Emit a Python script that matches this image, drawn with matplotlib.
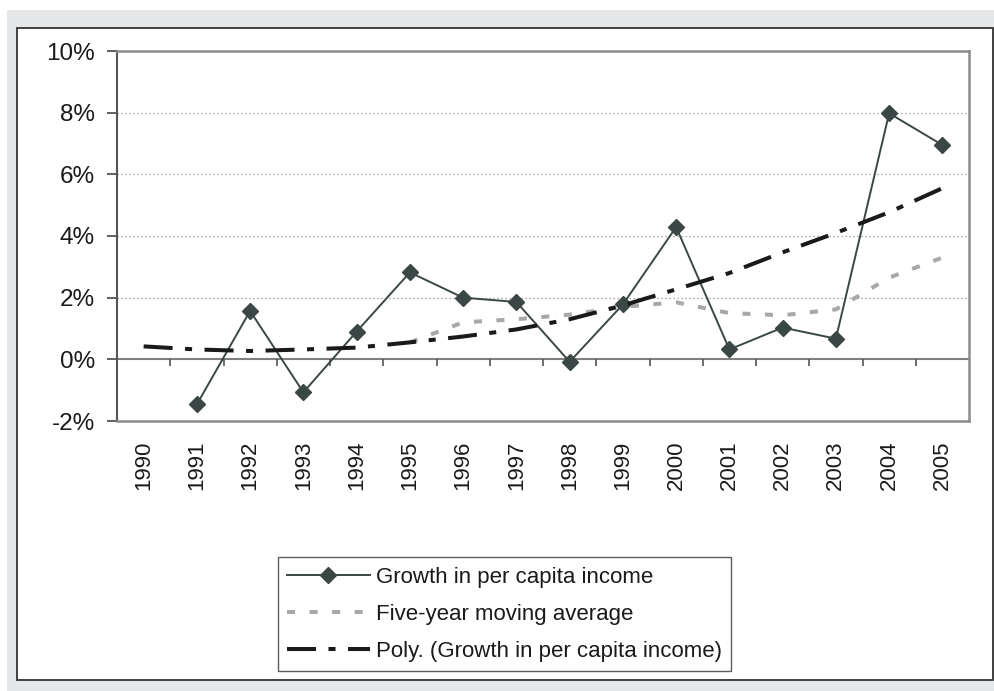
import numpy as np
import matplotlib
matplotlib.use("Agg")
import matplotlib.pyplot as plt
from matplotlib.patches import Rectangle
from matplotlib.ticker import FuncFormatter

plt.rcParams['font.family'] = ['Liberation Sans', 'DejaVu Sans']

years = [str(y) for y in range(1990, 2006)]
growth = [np.nan, -1.46, 1.57, -1.07, 0.90, 2.82, 2.00, 1.86, -0.08, 1.78,
          4.29, 0.32, 1.03, 0.67, 7.98, 6.95]
moving_avg = [np.nan, np.nan, np.nan, np.nan, np.nan, 0.55, 1.20, 1.30, 1.45,
              1.70, 1.85, 1.50, 1.43, 1.62, 2.65, 3.30]
poly = [0.42, 0.32, 0.27, 0.32, 0.38, 0.55, 0.74, 0.97, 1.30, 1.75,
        2.27, 2.80, 3.47, 4.10, 4.77, 5.55]
labels = ['Growth in per capita income', 'Five-year moving average',
          'Poly. (Growth in per capita income)']

W, H = 994, 691
fig = plt.figure(figsize=(W / 100, H / 100), dpi=100)
fig.patch.set_facecolor('white')
fig.patches.append(Rectangle((7 / W, 0), 1 - 7 / W, (H - 10) / H,
                             transform=fig.transFigure, facecolor='#e6e7e8',
                             edgecolor='none', zorder=-10))
fig.patches.append(Rectangle((17 / W, (H - 680) / H), (993 - 17) / W, (680 - 28) / H,
                             transform=fig.transFigure, facecolor='white',
                             edgecolor='#333333', linewidth=1.3, zorder=-9))

ax = fig.add_axes([117 / W, 1 - 421 / H, (969 - 117) / W, (421 - 51) / H])
ax.set_facecolor('white')
x = np.arange(len(years))

l1, = ax.plot(x, growth, color='#3a4745', lw=1.4, marker='D', ms=8.2,
              markeredgecolor='#3a4745', markerfacecolor='#3a4745', zorder=3)
l2, = ax.plot(x, moving_avg, color='#a8a8a8', lw=2.9, dashes=(2.0, 3.6),
              dash_capstyle='butt', zorder=4)
l3, = ax.plot(x, poly, color='#1a1a1a', lw=2.9, dashes=(7.2, 3.1, 1.75, 3.1),
              dash_capstyle='butt', zorder=5)

ax.set_xlim(-0.5, len(years) - 0.5)
ax.set_ylim(-2, 10)
ax.set_yticks([-2, 0, 2, 4, 6, 8, 10])
ax.yaxis.set_major_formatter(FuncFormatter(lambda v, p: f'{v:.0f}%'))
for g in [2, 4, 6, 8]:
    ax.axhline(g, color='#8c8c8c', lw=0.9, ls=(0, (1, 2.2)), zorder=1)
ax.axhline(0, color='#808080', lw=1.5, zorder=2)
bounds = np.arange(0.5, len(years) - 0.5, 1.0)
ax.vlines(bounds, -0.2, 0, color='#555555', lw=1.2, zorder=2)

ax.set_xticks(x)
ax.set_xticklabels(years, rotation=90, va='top', ha='center')
ax.tick_params(axis='x', length=0, pad=14, labelsize=16, labelcolor='#1a1a1a')
ax.tick_params(axis='y', length=7, width=1.3, color='#555555', pad=9,
               labelsize=17.5, labelcolor='#1a1a1a')
for s in ['top', 'right', 'bottom']:
    ax.spines[s].set_color('#8c8c8c')
    ax.spines[s].set_linewidth(1.8)
ax.spines['left'].set_color('#555555')
ax.spines['left'].set_linewidth(1.5)

leg = fig.legend([l1, l2, l3], labels, loc='lower left',
                 bbox_to_anchor=(278 / W, 1 - 671 / H, (731 - 278) / W, (671 - 555) / H),
                 mode='expand', fontsize=16, frameon=True, fancybox=False,
                 edgecolor='#333333', handlelength=3.7, handletextpad=0.3,
                 labelspacing=0.72, borderpad=0.42, borderaxespad=0)
leg.get_frame().set_linewidth(1.0)
for t in leg.get_texts():
    t.set_color('#1a1a1a')

fig.savefig('out.png', dpi=100, facecolor=fig.get_facecolor())
